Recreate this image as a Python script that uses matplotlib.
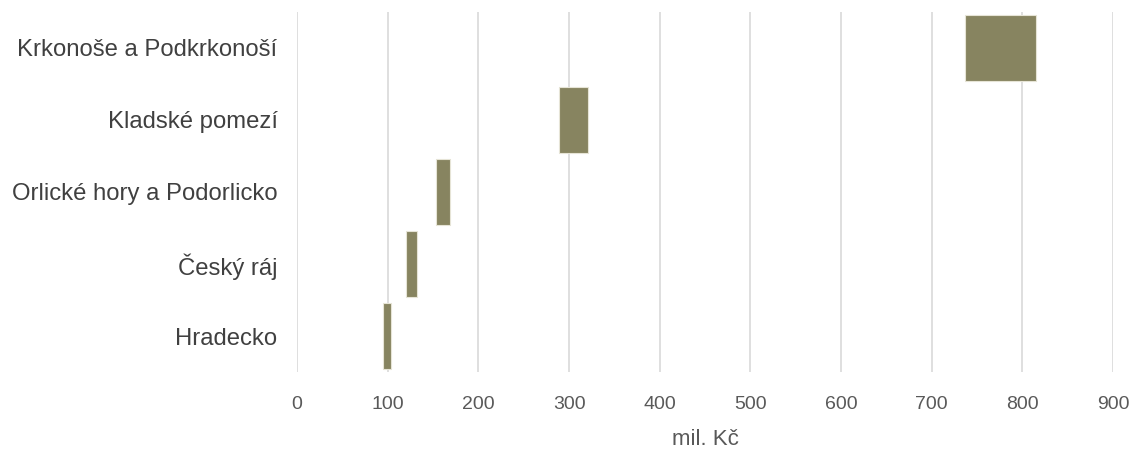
import matplotlib.pyplot as plt

regions = ['Hradecko', 'Český ráj', 'Orlické hory a Podorlicko',
           'Kladské pomezí', 'Krkonoše a Podkrkonoší']
low = [95, 120, 153, 289, 737]
high = [104, 132, 169, 321, 815]

fig = plt.figure(figsize=(11.36, 4.54), dpi=100)
ax = fig.add_axes([0.2615, 0.1806, 0.7183, 0.793])

widths = [h - l for l, h in zip(low, high)]
ax.barh(range(len(regions)), widths, left=low, height=0.93,
        color='#878460', edgecolor='#e6e4d6', linewidth=0.8, zorder=3)

ax.set_xlim(0, 900)
ax.set_ylim(-0.5, len(regions) - 0.5)
ax.set_xticks(range(0, 901, 100))
ax.set_yticks(range(len(regions)))
ax.set_yticklabels(regions, fontsize=17.2, color='#404040',
                   family=['Liberation Sans', 'DejaVu Sans'])
for lab in ax.get_xticklabels():
    lab.set_family(['Liberation Sans', 'DejaVu Sans'])
    lab.set_fontsize(14)
    lab.set_color('#595959')

ax.grid(axis='x', color='#d9d9d9', linewidth=1.2, zorder=0)
for s in ax.spines.values():
    s.set_visible(False)
ax.tick_params(axis='both', length=0)
ax.tick_params(axis='x', pad=17)
ax.tick_params(axis='y', pad=14)

ax.set_xlabel('mil. Kč', fontsize=16, color='#595959', labelpad=12,
              family=['Liberation Sans', 'DejaVu Sans'])

fig.savefig('out.png', dpi=100)
